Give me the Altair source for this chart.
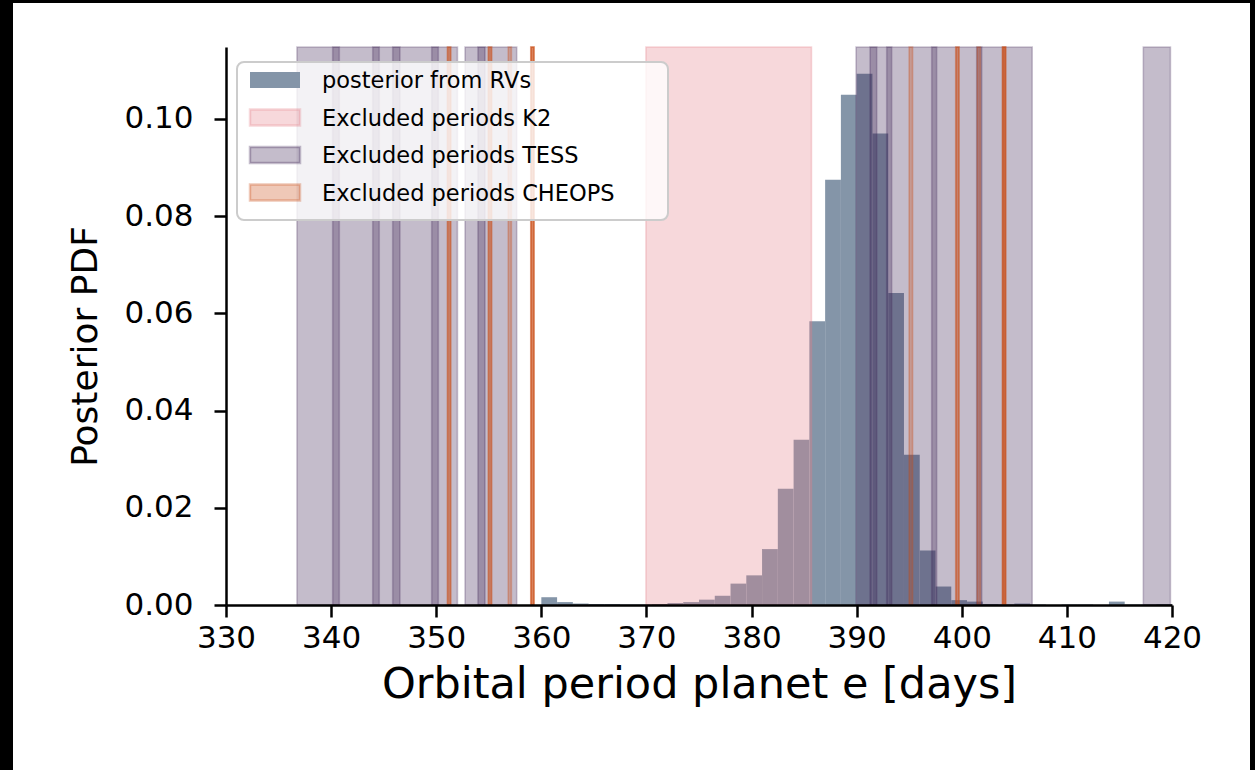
import altair as alt
import pandas as pd

# ---- data -------------------------------------------------------------
# Posterior PDF of the orbital period from the RV fit (bins of 1.5 d from 360 d)
BIN_START = 360.0
BIN_WIDTH = 1.5
posterior_pdf = [
    0.0016, 0.0006, 0.0003, 0.0002, 0.0002, 0.0001, 0.0001, 0.0002, 0.0004, 0.0006,
    0.0011, 0.0019, 0.0044, 0.0061, 0.0115, 0.0239, 0.0340, 0.0584, 0.0875, 0.1050,
    0.1093, 0.0970, 0.0642, 0.0309, 0.0112, 0.0038, 0.0010, 0.0007, 0.0002, 0.0001,
    0.0003, 0.0001, 0.0000, 0.0001, 0.0001, 0.0000, 0.0007, 0.0001, 0.0001, 0.0002,
]

# Period windows excluded by each photometric data set [days]
k2_start = [369.95]
k2_end = [385.70]

tess_start = [336.75, 340.15, 343.96, 345.86, 349.57, 352.74, 353.97,
              389.94, 391.27, 392.86, 397.14, 401.42, 417.27]
tess_end = [340.78, 344.58, 346.55, 350.20, 352.02, 354.64, 357.66,
            391.91, 393.33, 397.61, 401.90, 406.70, 419.85]

cheops_start = [351.06, 351.09, 354.95, 354.98, 356.85,
                358.99, 359.01, 359.04, 394.99,
                399.42, 399.45, 401.47, 403.86, 403.88, 403.91]
cheops_end = [351.39, 351.36, 355.28, 355.25, 357.15,
              359.32, 359.30, 359.27, 395.32,
              399.75, 399.72, 401.77, 404.19, 404.17, 404.14]

legend_labels = ["posterior from RVs", "Excluded periods K2",
                 "Excluded periods TESS", "Excluded periods CHEOPS"]

X_DOMAIN = [330, 420]
Y_DOMAIN = [0.0, 0.1148]
x_ticks = [330, 340, 350, 360, 370, 380, 390, 400, 410, 420]
y_ticks = [0.00, 0.02, 0.04, 0.06, 0.08, 0.10]

# ---- styling ------------------------------------------------------------
W, H = 946, 558
FONT = "DejaVu Sans"
HIST_COLOR = "#8495A8"
K2_COLOR = "#E47D87"
TESS_COLOR = "#3A2052"
CHEOPS_COLOR = "#CA4812"
SPAN_ALPHA = 0.3

hist_df = pd.DataFrame({
    "lo": [BIN_START + i * BIN_WIDTH for i in range(len(posterior_pdf))],
    "hi": [BIN_START + (i + 1) * BIN_WIDTH for i in range(len(posterior_pdf))],
    "pdf": posterior_pdf,
    "base": 0.0,
})


def span_df(starts, ends):
    return pd.DataFrame({"start": starts, "end": ends,
                         "top": Y_DOMAIN[1], "bottom": Y_DOMAIN[0]})


x_scale = alt.Scale(domain=X_DOMAIN, nice=False, zero=False)
y_scale = alt.Scale(domain=Y_DOMAIN, nice=False, zero=False)

common_axis = dict(
    labelFont=FONT, titleFont=FONT, labelFontSize=31,
    labelColor="black", titleColor="black", titleFontWeight="normal",
    domainColor="black", domainWidth=2.5, tickColor="black", tickWidth=2.5,
    tickSize=12, grid=False, labelFlush=False, zindex=1,
)
x_axis = alt.Axis(values=x_ticks, format="d", title="Orbital period planet e [days]",
                  titleFontSize=43, labelPadding=6, titlePadding=10, **common_axis)
y_axis = alt.Axis(values=y_ticks, format=".2f", title="Posterior PDF",
                  titleFontSize=36, labelPadding=21, titleY=299, titleX=-141,
                  titleAngle=270, titleAlign="center", titleBaseline="middle",
                  **common_axis)


def xenc(field):
    return alt.X(field, type="quantitative", scale=x_scale, axis=x_axis)


def yenc(field):
    return alt.Y(field, type="quantitative", scale=y_scale, axis=y_axis)


one = pd.DataFrame({"k": [0]})

# white sheet inside the dark frame
sheet = alt.Chart(one).mark_rect(color="white", clip=False).encode(
    x=alt.value(-213), x2=alt.value(W + 78), y=alt.value(-44), y2=alt.value(H + 200)
)

hist = alt.Chart(hist_df).mark_rect(color=HIST_COLOR, clip=True).encode(
    x=xenc("lo"), x2="hi", y=yenc("pdf"), y2="base"
)


def spans(starts, ends, color, stroke_alpha=SPAN_ALPHA):
    return alt.Chart(span_df(starts, ends)).mark_rect(
        fill=color, fillOpacity=SPAN_ALPHA, stroke=color,
        strokeOpacity=stroke_alpha, strokeWidth=1.6, clip=False,
    ).encode(x=xenc("start"), x2="end", y=yenc("top"), y2="bottom")


k2 = spans(k2_start, k2_end, K2_COLOR)
tess = spans(tess_start, tess_end, TESS_COLOR, 0.25)
cheops = spans(cheops_start, cheops_end, CHEOPS_COLOR)

# ---- legend box ---------------------------------------------------------
legend_layers = [
    alt.Chart(one).mark_rect(fill="white", fillOpacity=0.8, stroke="#CCCCCC",
                             strokeWidth=2, cornerRadius=7, clip=False).encode(
        x=alt.value(11), x2=alt.value(442), y=alt.value(15), y2=alt.value(173))
]
patch_styles = [
    dict(fill=HIST_COLOR, fillOpacity=1.0, strokeOpacity=0.0, stroke=HIST_COLOR),
    dict(fill=K2_COLOR, fillOpacity=SPAN_ALPHA, stroke=K2_COLOR, strokeOpacity=SPAN_ALPHA),
    dict(fill=TESS_COLOR, fillOpacity=SPAN_ALPHA, stroke=TESS_COLOR, strokeOpacity=SPAN_ALPHA),
    dict(fill=CHEOPS_COLOR, fillOpacity=SPAN_ALPHA, stroke=CHEOPS_COLOR, strokeOpacity=SPAN_ALPHA),
]
for i, (label, style) in enumerate(zip(legend_labels, patch_styles)):
    yc = 33 + i * 37.5
    legend_layers.append(
        alt.Chart(one).mark_rect(strokeWidth=2.5, clip=False, **style).encode(
            x=alt.value(24), x2=alt.value(74), y=alt.value(yc - 8), y2=alt.value(yc + 8))
    )
    legend_layers.append(
        alt.Chart(one).mark_text(font=FONT, fontSize=22.5, color="black", align="left",
                                 baseline="middle", clip=False).encode(
            x=alt.value(96), y=alt.value(yc + 1), text=alt.value(label))
    )

chart = alt.layer(sheet, hist, k2, tess, cheops, *legend_layers).properties(
    width=W, height=H,
    autosize=alt.AutoSizeParams(type="none"),
    padding={"left": 226, "top": 47, "right": 83, "bottom": 165},
    background="black",
).configure_view(stroke=None)

chart.save("out.html", embed_options={"renderer": "svg", "actions": False})
